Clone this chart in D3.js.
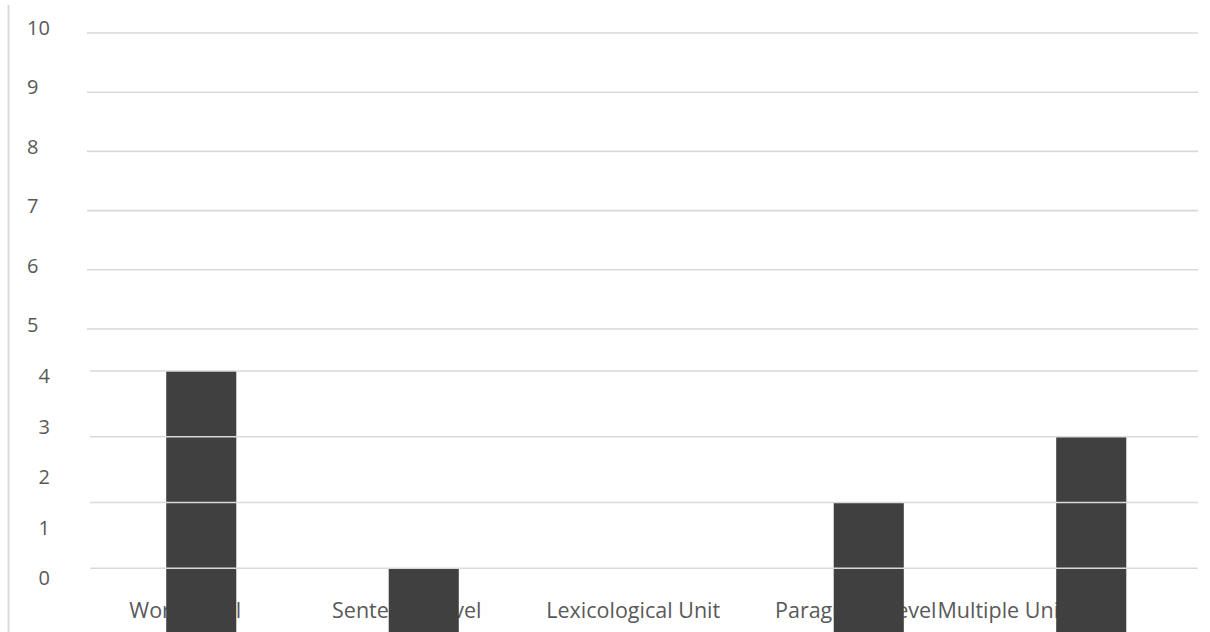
<!DOCTYPE html>
<html>
<head>
<meta charset="utf-8">
<script src="https://cdn.jsdelivr.net/npm/d3@7"></script>
<style>
  html, body { margin: 0; padding: 0; background: #fff; overflow: hidden; }
  text { font-family: "Open Sans", "Liberation Sans", sans-serif; fill: #595959; }
</style>
</head>
<body>
<div id="chart"></div>
<script>
'use strict';

// chart data
const categories = ['Word Level', 'Sentence Level', 'Lexicological Unit', 'Paragraph Level', 'Multiple Units'];
const counts = [4, 1, 0, 2, 3];
const tickValues = [0, 1, 2, 3, 4, 5, 6, 7, 8, 9, 10];

const width = 1210;
const height = 632;

const svg = d3.select('#chart')
  .append('svg')
    .attr('width', width)
    .attr('height', height);

// the grid is stretched differently below and above 4/5
const y = d3.scaleLinear()
    .domain([0, 4, 5, 10])
    .range([634, 371, 329, 33]);

// tick labels sit on their own (misaligned) scale
const yLabel = d3.scaleLinear()
    .domain([0, 4, 5, 10])
    .range([578, 376, 325, 28]);

const x = d3.scaleBand()
    .domain(categories)
    .range([90, 1202.5])
    .paddingInner(0.685)
    .paddingOuter(0.3425);

// left border line
svg.append('line')
    .attr('x1', 8.5).attr('x2', 8.5)
    .attr('y1', 5).attr('y2', height)
    .attr('stroke', '#d9d9d9')
    .attr('stroke-width', 2);

// category labels (drawn first so bars cover them)
const labelNudge = [-16, -17, -13, -13, -84];
svg.append('g')
  .selectAll('text')
  .data(categories)
  .join('text')
    .attr('x', (d, i) => x(d) + x.bandwidth() / 2 + labelNudge[i])
    .attr('y', 618)
    .attr('text-anchor', 'middle')
    .style('font-size', '21.5px')
    .text(d => d);

// bars
svg.append('g')
  .selectAll('rect')
  .data(categories.map((c, i) => ({ c, v: counts[i] })).filter(d => d.v > 0))
  .join('rect')
    .attr('x', d => x(d.c))
    .attr('width', x.bandwidth())
    .attr('y', d => y(d.v))
    .attr('height', d => y(0) - y(d.v))
    .attr('fill', '#404040');

// gridlines on top of the bars
svg.append('g')
  .selectAll('line')
  .data(tickValues.filter(t => t > 0))
  .join('line')
    .attr('x1', t => t > 4 ? 87 : 90)
    .attr('x2', 1198)
    .attr('y1', t => y(t))
    .attr('y2', t => y(t))
    .attr('stroke', '#d9d9d9')
    .attr('stroke-width', 1.6);

// y tick labels
svg.append('g')
  .selectAll('text')
  .data(tickValues)
  .join('text')
    .attr('x', t => t > 4 ? 27 : 50)
    .attr('y', t => yLabel(t))
    .attr('dy', '0.35em')
    .attr('text-anchor', t => t > 4 ? 'start' : 'end')
    .style('font-size', '20px')
    .text(t => t);
</script>
</body>
</html>
